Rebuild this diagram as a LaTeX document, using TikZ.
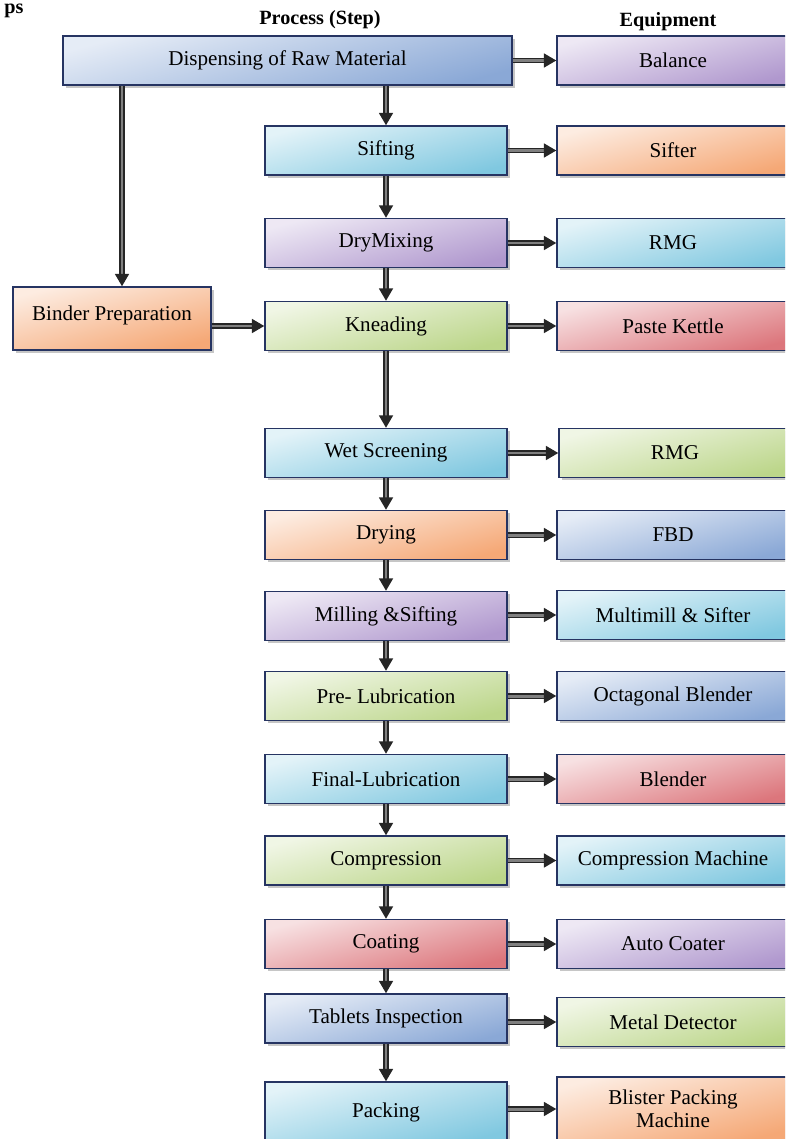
\documentclass[tikz,border=0pt]{standalone}
\usepackage{fontspec}
\setmainfont{Liberation Serif}
\usetikzlibrary{arrows.meta,shadows}

\definecolor{boxline}{RGB}{38,52,98}
\definecolor{boxblue}{RGB}{138,168,214}
\definecolor{boxpurple}{RGB}{176,152,206}
\definecolor{boxcyan}{RGB}{128,200,224}
\definecolor{boxorange}{RGB}{245,168,118}
\definecolor{boxgreen}{RGB}{188,214,138}
\definecolor{boxred}{RGB}{220,118,124}

\begin{document}
\begin{tikzpicture}[x=0.02cm,y=-0.02cm,
    box/.style={draw=boxline, line width=0.9pt, top color=#1!22, bottom color=#1,
      shading angle=15, minimum height=0.98cm, inner sep=2pt,
      font=\fontsize{12}{13}\selectfont,
      drop shadow={shadow xshift=1.5pt, shadow yshift=-1.5pt, opacity=0.45}},
    proc/.style={box=#1, minimum width=4.84cm},
    equip/.style={box=#1, minimum width=4.64cm},
    flow/.style={draw=black!85, line width=0.75pt, double=black!50, double distance=1.7pt,
      -{Triangle[length=7pt,width=8pt]}},
    head/.style={font=\bfseries\fontsize{11.5}{13}\selectfont}]
    \useasboundingbox (0,0) rectangle (785,1139);
    \clip (0,0) rectangle (785,1139);

    % headings
    \node[head, anchor=north west, inner sep=0pt] (tail) at (4,4) {ps};
    \node[head] (prochead) at (320,20) {Process (Step)};
    \node[head] (equihead) at (668,22) {Equipment};

    % process column
    \node[box=boxblue, minimum width=8.98cm] (disp) at (287.5,60.5) {Dispensing of Raw Material};
    \node[proc=boxcyan] (sift) at (386,150.5) {Sifting};
    \node[proc=boxpurple] (dry) at (386,243) {DryMixing};
    \node[box=boxorange, minimum width=3.96cm, minimum height=1.26cm] (binder) at (112,318.5) {\raisebox{6pt}{Binder Preparation}};
    \node[proc=boxgreen] (knead) at (386,326) {Kneading};
    \node[proc=boxcyan] (wet) at (386,453) {Wet Screening};
    \node[proc=boxorange] (drying) at (386,535) {Drying};
    \node[proc=boxpurple] (mill) at (386,616) {Milling \&Sifting};
    \node[proc=boxgreen] (prelub) at (386,696) {Pre- Lubrication};
    \node[proc=boxcyan] (finlub) at (386,779) {Final-Lubrication};
    \node[proc=boxgreen] (comp) at (386,860.5) {Compression};
    \node[proc=boxred] (coat) at (386,944) {Coating};
    \node[proc=boxblue] (insp) at (386,1018.5) {Tablets Inspection};
    \node[proc=boxcyan, minimum height=1.2cm] (pack) at (386,1112) {Packing};

    % equipment column
    \node[equip=boxpurple] (bal) at (673,60.5) {Balance};
    \node[equip=boxorange] (sifter) at (673,150.5) {Sifter};
    \node[equip=boxcyan] (rmga) at (673,243) {RMG};
    \node[equip=boxred] (kettle) at (673,326) {Paste Kettle};
    \node[equip=boxgreen] (rmgb) at (675,453) {RMG};
    \node[equip=boxblue] (fbd) at (673,535) {FBD};
    \node[equip=boxcyan] (mmill) at (673,615) {Multimill \& Sifter};
    \node[equip=boxblue] (octa) at (673,696) {Octagonal Blender};
    \node[equip=boxred] (blend) at (673,779) {Blender};
    \node[equip=boxcyan] (cmach) at (673,860.5) {Compression Machine};
    \node[equip=boxpurple] (coater) at (673,944) {Auto Coater};
    \node[equip=boxgreen] (metal) at (673,1022) {Metal Detector};
    \node[equip=boxorange, minimum height=1.28cm, align=center] (blister) at (673,1109) {Blister Packing\\Machine};

    % connectors
    \coordinate (bindtop) at ([xshift=0.2cm]binder.north);
    \draw[flow] (disp.south -| sift.north) -- (sift.north);
    \draw[flow] (disp.south -| bindtop) -- (bindtop);
    \draw[flow] (binder.east |- knead.west) -- (knead.west);
    \foreach \a/\b in {sift/dry, dry/knead, knead/wet, wet/drying, drying/mill,
        mill/prelub, prelub/finlub, finlub/comp, comp/coat, coat/insp, insp/pack}
      \draw[flow] (\a.south) -- (\b.north);
    \foreach \a/\b in {disp/bal, sift/sifter, dry/rmga, knead/kettle, wet/rmgb,
        drying/fbd, mill/mmill, prelub/octa, finlub/blend, comp/cmach,
        coat/coater, insp/metal, pack/blister}
      \draw[flow] (\a.east |- \b.west) -- (\b.west);
\end{tikzpicture}
\end{document}
